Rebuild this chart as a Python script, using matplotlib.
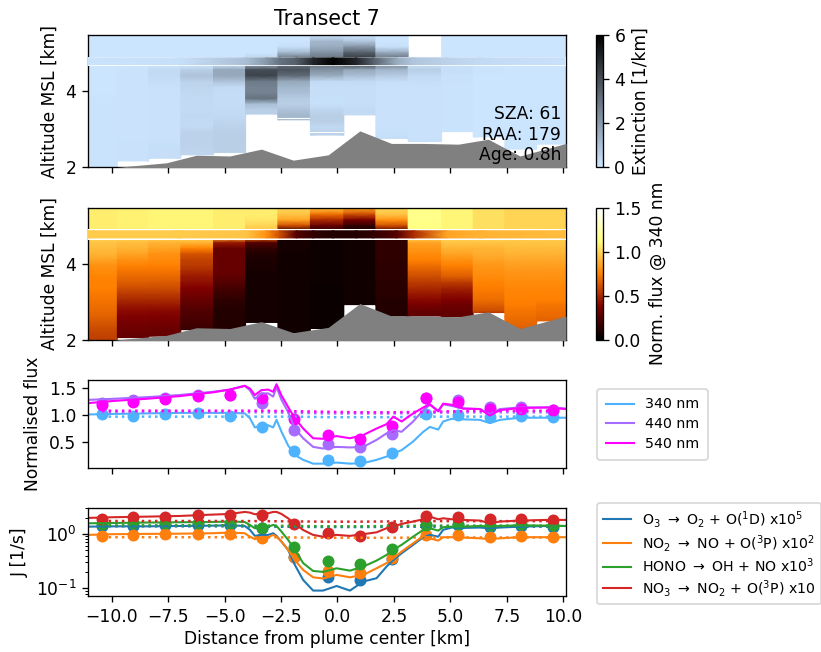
import numpy as np
import matplotlib
matplotlib.use("Agg")
import matplotlib.pyplot as plt
from matplotlib.colors import LinearSegmentedColormap

plt.rcParams["font.size"] = 10.25

title = "Transect 7"
info_text = "SZA: 61\nRAA: 179\nAge: 0.8h"

col_edges = [-11.05, -9.75, -8.36, -6.94, -5.49, -4.07, -2.64, -1.2, 0.28, 1.7, 3.13, 4.61, 6.01, 7.41, 8.82, 10.12]
col_centers = [-10.43, -9.04, -7.64, -6.2, -4.77, -3.35, -1.92, -0.43, 0.99, 2.41, 3.93, 5.32, 6.74, 8.11, 9.53]

alt_levels = [5.47, 5.3, 5.15, 5.0, 4.85, 4.7, 4.55, 4.4, 4.25, 4.1, 3.95, 3.8, 3.65, 3.5, 3.35, 3.2, 3.05, 2.9, 2.75, 2.6, 2.45, 2.3, 2.15, 2.0]

terrain_x = [-11.05, -9.28, -7.58, -6.25, -4.77, -3.37, -1.96, -0.41, 0.99, 2.39, 3.8, 5.35, 6.68, 8.08, 10.12]
terrain_z = [1.9, 2.02, 2.11, 2.31, 2.29, 2.47, 2.18, 2.32, 2.95, 2.62, 2.62, 2.6, 2.73, 2.29, 2.62]

ext_base = [2.0, 2.16, 2.23, 2.32, 2.38, 3.39, 3.24, 2.84, 3.37, 2.75, 2.67, 2.93, 2.79, 2.47, 2.6]
ext_top = [5.47, 5.47, 5.47, 5.47, 5.47, 5.47, 5.47, 5.47, 5.47, 5.47, 4.88, 5.47, 5.47, 5.47, 5.47]
flux_base = [2.0, 2.05, 2.09, 2.26, 2.29, 2.45, 2.18, 2.29, 2.92, 2.62, 2.62, 2.6, 2.71, 2.29, 2.49]

# thin cloud-free layers inside the extinction columns: column, lower, upper altitude
ext_holes_col = [6, 6, 7, 7]
ext_holes_low = [3.36, 3.27, 2.99, 2.90]
ext_holes_high = [3.38, 3.29, 3.01, 2.92]

ext_col0 = [0, 0, 0, 0, 0, 0, .02, .02, .02, .02, .02, .05, .05, .05, .05, .05, .05, .05, .05, .05, .05, .05, .05, .05]
ext_col1 = [0, 0, 0, 0, 0, 0, .08, .08, .08, .08, .08, .08, .08, .08, .08, .08, .08, .08, .08, .1, .1, .1, .1, .1]
ext_col2 = [0, 0, 0, 0, 0, 0, .3, .3, .2, .1, .1, .1, .1, .1, .1, .1, .1, .1, .1, .15, .2, .2, .2, .2]
ext_col3 = [0, 0, 0, 0, 0, 0, .6, .9, .5, .4, .35, .3, .3, .3, .35, .3, .3, .5, .5, .5, .45, .4, .3, .3]
ext_col4 = [0, 0, 0, 0, 0, .1, 1.6, 1.6, .9, .3, .25, .25, .25, .3, .3, .4, .5, .6, .6, .6, .6, .5, .4, .4]
ext_col5 = [0, 0, 0, 0, .5, 1.5, 4.0, 4.2, 2.8, 2.6, 2.6, 3.0, 1.0, .6, .5, .5, .5, .5, .5, .5, .5, .5, .5, .5]
ext_col6 = [0, 0, .2, 1.2, 3.0, 3.0, 3.8, 3.2, 1.6, 1.2, 1.0, .7, .6, .9, 1.2, 1.0, 1.0, 1.0, 1.0, 1.0, 1.0, 1.0, 1.0, 1.0]
ext_col7 = [0, 1.2, 1.5, 2.2, 3.0, 3.0, 2.2, 1.5, .3, .2, .2, .15, .15, .4, .6, .6, .3, .5, .5, .5, .5, .5, .5, .5]
ext_col8 = [0, .8, 2.2, 3.5, 4.5, 4.0, 1.6, 1.0, .3, .2, .2, .2, .2, .3, .3, .3, .3, .3, .3, .3, .3, .3, .3, .3]
ext_col9 = [0, 0, .2, 1.6, 3.0, 2.5, 1.2, .7, .2, .1, .1, .1, .1, .1, .1, .1, .1, .15, .2, .2, .2, .2, .2, .2]
ext_col10 = [0, 0, 0, 0, 0, .2, .6, .3, .2, .1, .1, .1, .1, .1, .1, .1, .1, .1, .1, .15, .2, .2, .2, .2]
ext_col11 = [0, 0, 0, 0, 0, .1, .2, .1, .1, .05, .05, .05, .05, .05, .05, .05, .05, .05, .05, .05, .05, .05, .05, .05]
ext_col12 = [0, 0, 0, 0, 0, 0, .05, .02, .02, .02, .02, .02, .02, .02, .02, .02, .02, .02, .02, .02, .02, .02, .02, .02]
ext_col13 = [0] * 24
ext_col14 = [0] * 24

flux_col0 = [1.07, 1.07, 1.07, 1.07, 1.07, 1.0, .95, .92, .9, .85, .8, .78, .76, .75, .75, .73, .72, .7, .68, .66, .63, .6, .58, .56]
flux_col1 = [1.08, 1.08, 1.08, 1.08, 1.08, 1.0, .93, .9, .85, .8, .76, .72, .68, .65, .6, .55, .5, .45, .41, .38, .35, .33, .3, .3]
flux_col2 = [1.1, 1.1, 1.1, 1.1, 1.1, 1.0, .9, .85, .8, .78, .75, .72, .68, .64, .6, .55, .5, .45, .4, .37, .34, .32, .3, .3]
flux_col3 = [1.1, 1.1, 1.1, 1.1, 1.1, 1.0, .9, .75, .62, .57, .55, .5, .45, .42, .38, .34, .3, .27, .24, .22, .2, .18, .17, .17]
flux_col4 = [1.07, 1.07, 1.07, 1.07, 1.07, .9, .45, .3, .3, .3, .3, .3, .28, .25, .2, .17, .14, .12, .1, .1, .1, .1, .1, .1]
flux_col5 = [1.07, 1.07, 1.05, 1.0, .95, .7, .25, .15, .1, .08, .08, .07, .06, .06, .06, .06, .06, .06, .06, .06, .06, .06, .06, .06]
flux_col6 = [1.0, .95, .85, .6, .1, .07, .06, .06, .05, .05, .05, .05, .05, .05, .05, .05, .05, .05, .05, .05, .05, .05, .05, .05]
flux_col7 = [.95, .7, .5, .3, .1, .05, .04, .04, .04, .04, .04, .04, .04, .04, .03, .03, .03, .03, .03, .03, .03, .03, .03, .03]
flux_col8 = [.85, .6, .35, .15, .05, .05, .05, .05, .05, .05, .05, .05, .05, .05, .05, .05, .05, .05, .05, .05, .05, .05, .05, .05]
flux_col9 = [1.0, .95, .8, .6, .2, .15, .14, .14, .14, .14, .13, .13, .13, .12, .12, .12, .11, .1, .1, .1, .1, .1, .1, .1]
flux_col10 = [1.15, 1.15, 1.15, 1.14, 1.12, 1.0, .85, .82, .78, .75, .7, .65, .6, .55, .5, .45, .4, .35, .3, .28, .27, .26, .25, .25]
flux_col11 = [1.1, 1.1, 1.1, 1.1, 1.1, 1.0, .95, .9, .85, .8, .75, .7, .65, .55, .48, .42, .38, .32, .3, .28, .27, .26, .25, .25]
flux_col12 = [1.03, 1.03, 1.03, 1.03, 1.03, 1.0, .95, .9, .88, .85, .82, .8, .78, .76, .74, .72, .7, .65, .6, .55, .55, .55, .55, .55]
flux_col13 = [1.0, 1.0, 1.0, 1.0, 1.0, .98, .95, .92, .9, .87, .84, .82, .8, .78, .77, .76, .75, .74, .72, .7, .68, .66, .64, .62]
flux_col14 = [1.0, 1.0, 1.0, 1.0, 1.0, .98, .95, .92, .9, .87, .84, .82, .8, .78, .77, .76, .75, .72, .7, .68, .66, .64, .62, .62]

strip_x = [-11.05, -6.99, -4.04, -3.15, -2.56, -1.82, -1.08, -0.2, 0.84, 1.58, 2.62, 3.35, 4.83, 6.31, 10.12]
strip_ext = [.05, .15, 1.0, 2.0, 3.0, 3.5, 5.0, 6.0, 5.0, 3.5, 1.5, .8, .5, .3, .1]
strip_flux = [.97, .97, .95, .8, .6, .25, .15, .1, .1, .15, .25, .5, .85, .9, .93]
ext_gaps = [[4.87, 4.89], [4.66, 4.69]]
flux_gaps = [[4.87, 4.92], [4.63, 4.68]]

line_x = [-11.05, -9.94, -8.46, -6.99, -5.51, -4.77, -4.11, -3.88, -3.66, -3.37, -3.07, -2.85, -2.70, -2.48, -2.19, -1.89, -1.52, -1.08, -0.64, -0.04, 0.55, 1.14, 1.73, 2.17, 2.47, 2.84, 3.35, 3.80, 4.09, 4.46, 4.68, 5.05, 5.57, 6.31, 6.75, 7.19, 8.08, 9.26, 10.12]

flux340 = [1.01, 1.02, 1.03, 1.04, 1.04, 1.04, 1.03, .94, .77, .81, .81, .77, .91, .69, .44, .26, .17, .10, .10, .12, .10, .11, .17, .23, .29, .35, .51, .69, .78, .73, .88, .93, .92, .91, .85, .91, .95, .95, .95]
flux440 = [1.28, 1.30, 1.33, 1.37, 1.43, 1.47, 1.54, 1.46, 1.30, 1.40, 1.40, 1.34, 1.52, 1.28, 1.06, .75, .57, .41, .38, .41, .40, .41, .54, .66, .72, .69, .88, 1.09, 1.19, 1.07, 1.20, 1.17, 1.12, 1.11, 1.01, 1.11, 1.14, 1.14, 1.12]
flux540 = [1.22, 1.26, 1.30, 1.35, 1.42, 1.47, 1.54, 1.49, 1.37, 1.46, 1.47, 1.43, 1.57, 1.36, 1.15, .94, .75, .57, .56, .61, .57, .63, .75, .83, .97, .88, 1.03, 1.14, 1.20, 1.07, 1.21, 1.19, 1.12, 1.11, .99, 1.09, 1.13, 1.14, 1.11]

pts340 = [1.01, .99, 1.02, 1.03, .98, .78, .33, .16, .14, .30, 1.02, 1.00, .96, .99, .96]
pts440 = [1.22, 1.27, 1.32, 1.37, 1.37, 1.23, .72, .46, .40, .64, 1.32, 1.28, 1.15, 1.14, 1.10]
pts540 = [1.19, 1.24, 1.30, 1.36, 1.37, 1.32, .92, .63, .55, .80, 1.31, 1.25, 1.12, 1.11, 1.09]

clear340 = [.97, .97, .97, .97, .97, .97, .97, .96, .96, .96, .97, .97, .97, .97, .97]
clear440 = [1.05, 1.05, 1.05, 1.05, 1.05, 1.05, 1.04, 1.03, 1.03, 1.03, 1.04, 1.05, 1.05, 1.05, 1.05]
clear540 = [1.08, 1.08, 1.08, 1.08, 1.08, 1.08, 1.07, 1.06, 1.05, 1.05, 1.06, 1.07, 1.08, 1.08, 1.08]

j_o3 = [1.36, 1.38, 1.38, 1.40, 1.42, 1.44, 1.40, 1.19, .92, .96, .96, 1.03, .92, .72, .51, .269, .142, .0906, .0906, .110, .0906, .133, .153, .25, .33, .44, .63, .87, .96, .89, 1.19, 1.31, 1.29, 1.31, 1.27, 1.31, 1.36, 1.40, 1.40]
j_no2 = [.96, .99, 1.0, 1.01, 1.03, 1.06, 1.03, .89, .80, .87, .87, .96, .89, .72, .51, .33, .217, .159, .151, .176, .159, .176, .233, .29, .356, .473, .673, .92, .83, .753, .87, .87, .857, .83, .80, .83, .87, .87, .87]
j_hono = [1.57, 1.59, 1.62, 1.64, 1.66, 1.69, 1.66, 1.46, 1.27, 1.36, 1.36, 1.46, 1.40, 1.10, .78, .51, .29, .208, .20, .233, .211, .25, .323, .41, .51, .63, .89, 1.19, 1.27, 1.15, 1.33, 1.36, 1.36, 1.40, 1.36, 1.40, 1.44, 1.42, 1.40]
j_no3 = [1.97, 2.03, 2.08, 2.14, 2.27, 2.33, 2.54, 2.47, 2.30, 2.40, 2.40, 2.54, 2.54, 2.33, 1.94, 1.53, 1.18, .96, .89, .96, .92, .99, 1.07, 1.27, 1.36, 1.53, 1.69, 1.86, 2.08, 1.86, 1.94, 1.86, 1.81, 1.76, 1.57, 1.69, 1.76, 1.81, 1.81]

pts_o3 = [1.40, 1.40, 1.44, 1.44, 1.44, 1.27, .383, .159, .142, .342, 1.46, 1.46, 1.36, 1.42, 1.36]
pts_no2 = [.93, .96, 1.0, 1.01, .99, .83, .383, .208, .191, .356, .96, .945, .89, .92, .87]
pts_hono = [1.53, 1.57, 1.57, 1.62, 1.57, 1.27, .585, .318, .276, .53, 1.46, 1.51, 1.46, 1.51, 1.46]
pts_no3 = [1.91, 2.03, 2.08, 2.2, 2.27, 2.2, 1.53, 1.04, .92, 1.33, 2.14, 2.03, 1.86, 1.86, 1.81]

clear_o3 = [1.38, 1.38, 1.38, 1.38, 1.38, 1.36, 1.35, 1.34, 1.34, 1.35, 1.36, 1.36, 1.36, 1.36, 1.36]
clear_no2 = [.87, .87, .87, .87, .87, .87, .86, .85, .85, .85, .86, .86, .86, .86, .86]
clear_hono = [1.44, 1.44, 1.44, 1.44, 1.44, 1.42, 1.4, 1.38, 1.38, 1.4, 1.42, 1.42, 1.42, 1.42, 1.42]
clear_no3 = [1.73, 1.73, 1.73, 1.73, 1.73, 1.72, 1.7, 1.68, 1.68, 1.7, 1.72, 1.72, 1.72, 1.72, 1.72]

flux_labels = ["340 nm", "440 nm", "540 nm"]
flux_colors = ["#4db3ff", "#a66bff", "#ff00ff"]
j_labels = [
    r"O$_3$ $\rightarrow$ O$_2$ + O($^1$D) x10$^5$",
    r"NO$_2$ $\rightarrow$ NO + O($^3$P) x10$^2$",
    r"HONO $\rightarrow$ OH + NO x10$^3$",
    r"NO$_3$ $\rightarrow$ NO$_2$ + O($^3$P) x10",
]
j_colors = ["#1f77b4", "#ff7f0e", "#2ca02c", "#d62728"]

ext_columns = [ext_col0, ext_col1, ext_col2, ext_col3, ext_col4, ext_col5, ext_col6, ext_col7, ext_col8, ext_col9, ext_col10, ext_col11, ext_col12, ext_col13, ext_col14]
flux_columns = [flux_col0, flux_col1, flux_col2, flux_col3, flux_col4, flux_col5, flux_col6, flux_col7, flux_col8, flux_col9, flux_col10, flux_col11, flux_col12, flux_col13, flux_col14]

W, H = 821, 652
fig = plt.figure(figsize=(W / 120, H / 120), dpi=120)


def make_ax(top, bottom):
    return fig.add_axes([88 / W, 1 - bottom / H, (566 - 88) / W, (bottom - top) / H])


ax1 = make_ax(35, 167)
ax2 = make_ax(208, 339.5)
ax3 = make_ax(380, 467.7)
ax4 = make_ax(508, 596)
xlim = (col_edges[0], col_edges[-1])
ylim = (2.0, 5.47)

ext_cmap = LinearSegmentedColormap.from_list("ext", ["#cce5ff", "#000000"])


def curtain(ax, columns, bases, tops, strip, gaps, cmap, vmax):
    levels = np.array(alt_levels)
    mesh = None
    for i, vals in enumerate(columns):
        z = np.clip(levels, bases[i], tops[i])
        xx = [col_edges[i], col_edges[i + 1]]
        c = np.column_stack([vals, vals])
        mesh = ax.pcolormesh(xx, z, c, cmap=cmap, vmin=0, vmax=vmax, shading="gouraud")
    for g in gaps:
        ax.axhspan(g[0], g[1], color="white", lw=0, zorder=3)
    sv = np.array([strip, strip])
    ax.pcolormesh(strip_x, [gaps[1][1], gaps[0][0]], sv, cmap=cmap, vmin=0, vmax=vmax,
                  shading="gouraud", zorder=3)
    ax.fill_between(terrain_x, 1.5, terrain_z, color="#808080", lw=0, zorder=4)
    ax.set_xlim(xlim)
    ax.set_ylim(ylim)
    ax.set_yticks([2, 4])
    ax.set_ylabel("Altitude MSL [km]")
    ax.tick_params(labelbottom=False)
    return mesh


m1 = curtain(ax1, ext_columns, ext_base, ext_top, strip_ext, ext_gaps, ext_cmap, 6)
m2 = curtain(ax2, flux_columns, flux_base, [5.47] * 15, strip_flux, flux_gaps, "afmhot", 1.5)

for c, lo, hi in zip(ext_holes_col, ext_holes_low, ext_holes_high):
    ax1.fill_between([col_edges[c], col_edges[c + 1]], lo, hi, color="white", lw=0, zorder=2)

ax1.set_title(title, fontsize=12.3, pad=6)
ax1.text(0.99, 0.02, info_text, transform=ax1.transAxes, ha="right", va="bottom", zorder=6)


def colorbar(mappable, ax, top, bottom, label, ticks):
    cax = fig.add_axes([596 / W, 1 - bottom / H, 6.6 / W, (bottom - top) / H])
    cb = fig.colorbar(mappable, cax=cax)
    cb.set_ticks(ticks)
    cb.set_label(label)


colorbar(m1, ax1, 35, 167, "Extinction [1/km]", [0, 2, 4, 6])
colorbar(m2, ax2, 208, 339.5, "Norm. flux @ 340 nm", [0, 0.5, 1.0, 1.5])

LW = 1.25
for line, pts, clear, col, lab in zip([flux340, flux440, flux540], [pts340, pts440, pts540],
                                      [clear340, clear440, clear540], flux_colors, flux_labels):
    ax3.plot(line_x, line, color=col, lw=LW, label=lab)
    ax3.scatter(col_centers, pts, color=col, s=38)
    ax3.plot(col_centers, clear, color=col, ls=":", lw=1.5)
ax3.set_xlim(xlim)
ax3.set_ylim(0.025, 1.648)
ax3.set_yticks([0.5, 1.0, 1.5])
ax3.set_ylabel("Normalised flux")
ax3.tick_params(labelbottom=False)

for line, pts, clear, col, lab in zip([j_o3, j_no2, j_hono, j_no3], [pts_o3, pts_no2, pts_hono, pts_no3],
                                      [clear_o3, clear_no2, clear_hono, clear_no3], j_colors, j_labels):
    ax4.plot(line_x, line, color=col, lw=LW, label=lab)
    ax4.scatter(col_centers, pts, color=col, s=38)
    ax4.plot(col_centers, clear, color=col, ls=":", lw=1.5)
ax4.set_yscale("log")
ax4.set_xlim(xlim)
ax4.set_ylim(0.072, 3.0)
ax4.set_ylabel("J [1/s]")
ax4.set_xlabel("Distance from plume center [km]", labelpad=2.5)

for ax in (ax1, ax2, ax3, ax4):
    ax.set_xticks([-10, -7.5, -5, -2.5, 0, 2.5, 5, 7.5, 10])

ax3.legend(loc="upper left", bbox_to_anchor=(597 / W, 1 - 389 / H), bbox_transform=fig.transFigure,
           borderaxespad=0, fontsize=8.5, labelspacing=0.42, borderpad=0.6)
ax4.legend(loc="upper left", bbox_to_anchor=(597 / W, 1 - 503 / H), bbox_transform=fig.transFigure,
           borderaxespad=0, fontsize=8.5, labelspacing=0.2, borderpad=0.4)

fig.savefig("out.png", dpi=120)
